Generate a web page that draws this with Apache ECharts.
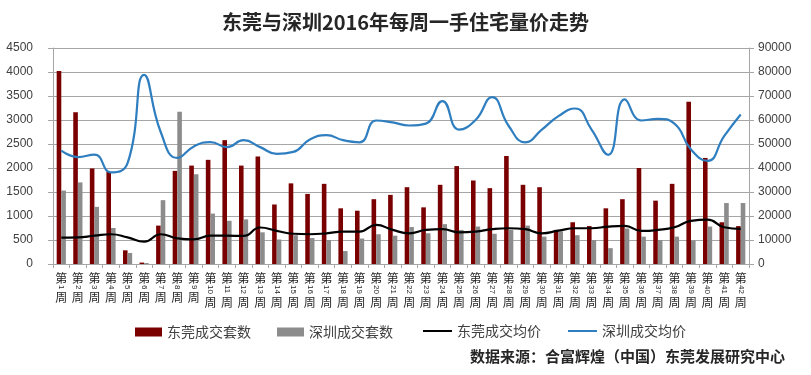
<!DOCTYPE html>
<html>
<head>
<meta charset="utf-8">
<script src="https://cdn.jsdelivr.net/npm/echarts@6/dist/echarts.min.js"></script>
<style>
html,body{margin:0;padding:0;background:#fff;}
#chart{width:811px;height:375px;}
</style>
</head>
<body>
<div id="chart"></div>
<script>
var weeks = [1,2,3,4,5,6,7,8,9,10,11,12,13,14,15,16,17,18,19,20,21,22,23,24,25,26,27,28,29,30,31,32,33,34,35,36,37,38,39,40,41,42];
var leftTicks = [0, 4500, 500];
var rightTicks = [0, 90000, 10000];
var dgUnits = [4020,3160,1990,1920,285,30,800,1940,2050,2170,2580,2050,2240,1240,1680,1460,1670,1160,1110,1350,1440,1600,1180,1650,2040,1740,1580,2250,1650,1600,710,870,790,1160,1350,2000,1320,1670,3380,2210,870,790];
var szUnits = [1530,1700,1190,750,230,20,1330,3170,1870,1050,900,930,660,510,600,540,500,270,530,620,590,770,640,830,710,780,630,710,800,570,680,600,500,330,740,570,500,570,490,780,1270,1270];
var dgPrice = [11000,11100,11800,12400,11100,9300,12400,10700,10300,11800,11800,11700,15200,13800,12600,12400,12800,13500,13500,16300,14200,12800,14200,14500,13200,13500,14500,14900,14500,12800,13900,14900,14900,15600,15900,13800,14200,15300,18000,18500,15300,14600];
var szPrice = [47300,44500,45600,38200,42000,78800,55000,44200,49000,50800,48700,51600,48700,45900,46700,51900,53700,51600,50700,59800,59000,57700,58500,67900,56000,60000,69500,57500,50700,56000,61600,64800,56000,45500,68600,59800,60500,58500,47700,43000,53300,62300];
var names = ['东莞成交套数','深圳成交套数','东莞成交均价','深圳成交均价'];
var titleText = '东莞与深圳2016年每周一手住宅量价走势';
var sourceText = '数据来源：合富辉煌（中国）东莞发展研究中心';

var cjk = '"Noto Sans CJK SC", "Noto Sans", sans-serif';
var chart = echarts.init(document.getElementById('chart'), null, {renderer:'canvas'});
var gridColor = '#a6a6a6';
var plain = function (v) { return String(v); };
var option = {
  backgroundColor: '#fff',
  animation: false,
  textStyle: {fontFamily: cjk},
  title: {
    text: titleText, left: 'center', top: 7,
    textStyle: {fontSize: 20, fontWeight: 'bold', color: '#262626', fontFamily: cjk}
  },
  graphic: [{
    type: 'text', left: 470, top: 349,
    style: {text: sourceText, fontSize: 15, fontWeight: 'bold', fill: '#262626', fontFamily: cjk}
  }],
  legend: [{
    data: [names[0], names[1]], left: 135, top: 325, padding: 0, itemWidth: 27, itemHeight: 9, itemGap: 26,
    icon: 'rect',
    textStyle: {fontSize: 14, color: '#404040', lineHeight: 14, fontFamily: cjk}
  }, {
    data: [names[2], names[3]], left: 423, top: 324, padding: 0, itemWidth: 29, itemHeight: 2, itemGap: 27,
    icon: 'rect',
    textStyle: {fontSize: 14, color: '#404040', lineHeight: 14, fontFamily: cjk}
  }],
  grid: {left: 53, right: 62, top: 48, bottom: 111, containLabel: false},
  xAxis: [{
    type: 'category', data: weeks, position: 'bottom',
    axisLine: {lineStyle: {color: gridColor}},
    axisTick: {show: true, length: 4, lineStyle: {color: gridColor}},
    axisLabel: {
      interval: 0, margin: 8, color: '#262626',
      formatter: function (v) { return '{a|第}\n{' + (Number(v) >= 10 ? 'g' : 'h') + '|}\n{a|周}'; },
      rich: {
        a: {fontSize: 12, lineHeight: 13, fontFamily: cjk, color: '#262626'},
        h: {fontSize: 8, lineHeight: 6},
        g: {fontSize: 8, lineHeight: 11}
      }
    }
  }, {
    type: 'category', data: weeks, position: 'bottom',
    axisLine: {show: false}, axisTick: {show: false},
    axisLabel: {interval: 0, rotate: -90, margin: 21, fontSize: 8, color: '#262626', fontFamily: 'Liberation Sans'}
  }],
  yAxis: [{
    type: 'value', min: leftTicks[0], max: leftTicks[1], interval: leftTicks[2], position: 'left',
    axisLine: {show: true, lineStyle: {color: gridColor}},
    axisTick: {show: true, length: 5, lineStyle: {color: gridColor}},
    axisLabel: {fontSize: 12, color: '#404040', margin: 20, fontFamily: 'Liberation Sans', formatter: plain},
    splitLine: {lineStyle: {color: gridColor, width: 1}}
  }, {
    type: 'value', min: rightTicks[0], max: rightTicks[1], interval: rightTicks[2], position: 'right',
    axisLine: {show: true, lineStyle: {color: gridColor}},
    axisTick: {show: true, length: 5, lineStyle: {color: gridColor}},
    axisLabel: {fontSize: 12, color: '#404040', margin: 9, fontFamily: 'Liberation Sans', formatter: plain},
    splitLine: {show: false}
  }],
  series: [{
    name: names[0], type: 'bar', data: dgUnits, xAxisIndex: 0, yAxisIndex: 0,
    barWidth: 4.6, barGap: '0%', itemStyle: {color: '#7a0000'}
  }, {
    name: names[1], type: 'bar', data: szUnits, xAxisIndex: 0, yAxisIndex: 0,
    barWidth: 4.6, barGap: '0%', itemStyle: {color: '#8c8c8c'}
  }, {
    name: names[2], type: 'line', data: dgPrice, xAxisIndex: 0, yAxisIndex: 1,
    smooth: 0.5, showSymbol: false, symbol: 'none', lineStyle: {color: '#000000', width: 2.2}, itemStyle: {color: '#000000'}
  }, {
    name: names[3], type: 'line', data: szPrice, xAxisIndex: 0, yAxisIndex: 1,
    smooth: 0.5, showSymbol: false, symbol: 'none', lineStyle: {color: '#2f7ebf', width: 2.2}, itemStyle: {color: '#2f7ebf'}
  }]
};
chart.setOption(option);
</script>
</body>
</html>
